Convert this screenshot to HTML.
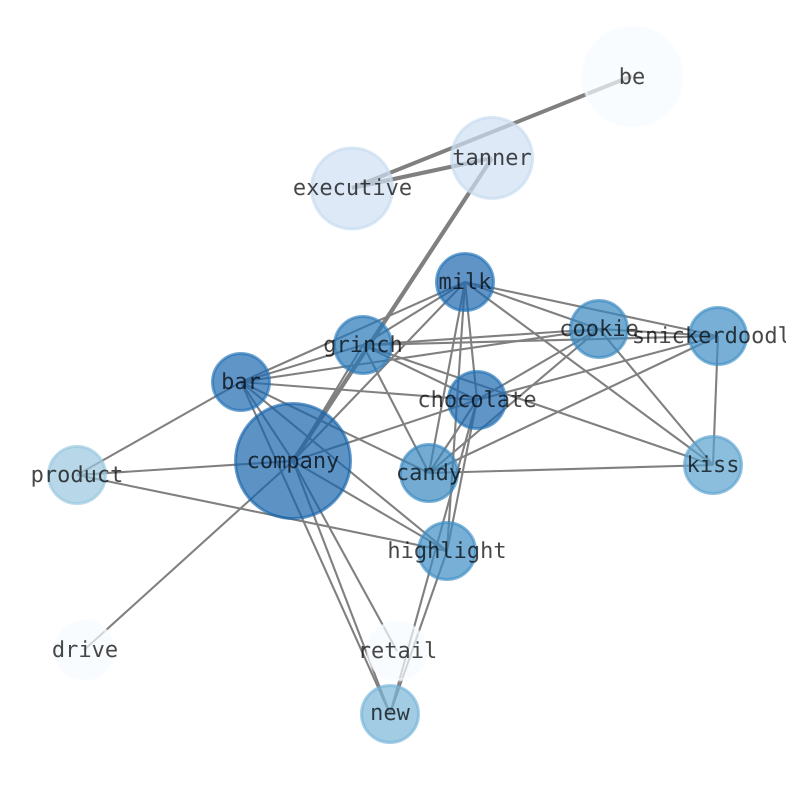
<!DOCTYPE html>
<html><head><meta charset="utf-8"><style>
html,body{margin:0;padding:0;background:#fff}
svg{display:block}
text{font-family:"DejaVu Sans Mono","Liberation Mono",monospace;font-size:22px;text-anchor:middle;fill:#000;fill-opacity:.72;text-rendering:geometricPrecision}
circle{stroke-width:3;fill-opacity:.7;stroke-opacity:.65}
line{stroke:#808080;stroke-width:2.1}
</style></head><body>
<svg xmlns="http://www.w3.org/2000/svg" width="794" height="790" viewBox="0 0 794 790">
<defs><clipPath id="c"><rect x="0" y="0" width="786" height="790"/></clipPath></defs>
<g>
<line x1="632" y1="76" x2="352" y2="188" style="stroke-width:4"/>
<line x1="492" y1="158" x2="352" y2="188" style="stroke-width:4.2"/>
<line x1="492" y1="158" x2="293" y2="461" style="stroke-width:4.2"/>
<line x1="465" y1="282" x2="363" y2="345"/>
<line x1="465" y1="282" x2="241" y2="382"/>
<line x1="465" y1="282" x2="293" y2="461"/>
<line x1="465" y1="282" x2="429" y2="473"/>
<line x1="465" y1="282" x2="477" y2="400"/>
<line x1="465" y1="282" x2="447" y2="551"/>
<line x1="465" y1="282" x2="599" y2="329"/>
<line x1="465" y1="282" x2="718" y2="336"/>
<line x1="465" y1="282" x2="713" y2="465"/>
<line x1="363" y1="345" x2="241" y2="382"/>
<line x1="363" y1="345" x2="293" y2="461"/>
<line x1="363" y1="345" x2="599" y2="329"/>
<line x1="363" y1="345" x2="718" y2="336"/>
<line x1="363" y1="345" x2="477" y2="400"/>
<line x1="363" y1="345" x2="713" y2="465"/>
<line x1="363" y1="345" x2="429" y2="473"/>
<line x1="241" y1="382" x2="599" y2="329"/>
<line x1="241" y1="382" x2="477" y2="400"/>
<line x1="241" y1="382" x2="429" y2="473"/>
<line x1="241" y1="382" x2="447" y2="551"/>
<line x1="241" y1="382" x2="390" y2="714"/>
<line x1="241" y1="382" x2="293" y2="461"/>
<line x1="241" y1="382" x2="77" y2="475"/>
<line x1="293" y1="461" x2="477" y2="400"/>
<line x1="293" y1="461" x2="77" y2="475"/>
<line x1="293" y1="461" x2="84" y2="650"/>
<line x1="293" y1="461" x2="447" y2="551"/>
<line x1="293" y1="461" x2="390" y2="714"/>
<line x1="293" y1="461" x2="397" y2="651"/>
<line x1="77" y1="475" x2="447" y2="551"/>
<line x1="599" y1="329" x2="477" y2="400"/>
<line x1="599" y1="329" x2="429" y2="473"/>
<line x1="599" y1="329" x2="713" y2="465"/>
<line x1="599" y1="329" x2="718" y2="336"/>
<line x1="718" y1="336" x2="477" y2="400"/>
<line x1="718" y1="336" x2="429" y2="473"/>
<line x1="718" y1="336" x2="713" y2="465"/>
<line x1="477" y1="400" x2="429" y2="473"/>
<line x1="477" y1="400" x2="447" y2="551"/>
<line x1="477" y1="400" x2="390" y2="714"/>
<line x1="429" y1="473" x2="713" y2="465"/>
<line x1="447" y1="551" x2="390" y2="714"/>
</g>
<g>
<circle cx="632.5" cy="76.5" r="49.5" fill="#f7fbff" stroke="#f7fbff"/>
<circle cx="492" cy="158" r="40.5" fill="#cee0f2" stroke="#c6dbef"/>
<circle cx="352" cy="188.5" r="40.5" fill="#cee0f2" stroke="#c6dbef"/>
<circle cx="465" cy="282" r="28.5" fill="#1c67af" stroke="#2171b5"/>
<circle cx="363" cy="345" r="28.5" fill="#2676b8" stroke="#2b7bba"/>
<circle cx="599" cy="329" r="28.5" fill="#3787c0" stroke="#3787c0"/>
<circle cx="718" cy="336" r="28.5" fill="#3d8dc4" stroke="#3d8dc4"/>
<circle cx="241" cy="382" r="28.5" fill="#1c68b0" stroke="#2272b6"/>
<circle cx="477" cy="400" r="28.5" fill="#1c68b0" stroke="#2070b4"/>
<circle cx="293" cy="461" r="57.5" fill="#1764ab" stroke="#1764ab"/>
<circle cx="429" cy="473" r="28.5" fill="#3787c0" stroke="#3787c0"/>
<circle cx="713" cy="465" r="28.5" fill="#5aa2cf" stroke="#5aa2cf"/>
<circle cx="77" cy="475" r="28.5" fill="#9ac8e0" stroke="#97c6df"/>
<circle cx="447" cy="551" r="28.5" fill="#3d8dc4" stroke="#3d8dc4"/>
<circle cx="84.5" cy="650" r="29" fill="#f7fbff" stroke="#f7fbff"/>
<circle cx="397" cy="651" r="29" fill="#f7fbff" stroke="#f7fbff"/>
<circle cx="390" cy="714" r="28.5" fill="#7ab6d9" stroke="#74b3d8"/>
</g>
<g clip-path="url(#c)">
<text x="632" y="84">be</text>
<text x="492" y="165">tanner</text>
<text x="352.5" y="195">executive</text>
<text x="465" y="289">milk</text>
<text x="363" y="352">grinch</text>
<text x="599" y="336">cookie</text>
<text x="718" y="343">snickerdoodle</text>
<text x="241" y="389">bar</text>
<text x="477" y="407">chocolate</text>
<text x="293" y="468">company</text>
<text x="429" y="480">candy</text>
<text x="713" y="472">kiss</text>
<text x="77" y="482">product</text>
<text x="447" y="558">highlight</text>
<text x="85" y="657">drive</text>
<text x="397.5" y="658">retail</text>
<text x="390" y="720">new</text>
</g>
</svg>
</body></html>
